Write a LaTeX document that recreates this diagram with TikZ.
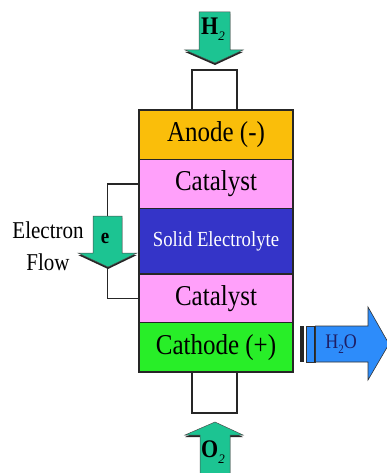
\documentclass[tikz,border=0pt]{standalone}
\usepackage{fontspec}
\setmainfont{Liberation Serif}
\definecolor{anodec}{RGB}{250,190,10}
\definecolor{catc}{RGB}{255,160,250}
\definecolor{elecc}{RGB}{52,52,200}
\definecolor{cathc}{RGB}{40,238,40}
\definecolor{arrg}{RGB}{28,196,146}
\definecolor{arrb}{RGB}{45,140,250}
\definecolor{navy}{RGB}{30,30,100}
\tikzset{
  layer/.style={draw=black!85, line width=1.6pt, minimum width=154pt, inner sep=0pt, font=\fontsize{25}{25}\selectfont},
  wire/.style={draw=black!85, line width=1.3pt},
  garrow/.style={fill=arrg, draw=black!70, line width=0.5pt},
  gshadow/.style={fill=black!85},
  lbl/.style={font=\fontsize{21}{21}\selectfont, inner sep=0pt}
}
\newcommand{\ys}[1]{\scalebox{1}[1.15]{#1}}
\begin{document}
\begin{tikzpicture}[x=1pt,y=-1pt]
\useasboundingbox (0,0) rectangle (386,473);
% layers
\node[layer, fill=anodec, minimum height=49.5pt] (anode) at (216,134.75) {\ys{Anode (-)}};
\node[layer, fill=catc, minimum height=49pt] (cat1) at (216,184) {\ys{Catalyst}};
\node[layer, fill=elecc, minimum height=65.5pt, text=white, font=\fontsize{18.7}{19}\selectfont] (elec) at (216,241.25) {\ys{Solid Electrolyte}};
\node[layer, fill=catc, minimum height=48.5pt] (cat2) at (216,298.25) {\ys{Catalyst}};
\node[layer, fill=cathc, minimum height=49.5pt] (cath) at (216,347.25) {\ys{Cathode (+)}};
% feed rectangles
\draw[wire] (192,110) -- (192,70) -- (237,70) -- (237,110);
\draw[wire] (192,372) -- (192,413) -- (237,413) -- (237,372);
% circuit
\draw[wire] (cat1.west) -- ++(-31,0) coordinate (c1) |- (cat2.west);
% H2 arrow
\path[gshadow] (199,14) -- (230,14) -- (230,52) -- (243,52) -- (215,65) -- (185,52) -- (199,52) -- cycle;
\path[garrow] (199,12) -- (230,12) -- (230,50) -- (243,50) -- (215,63) -- (185,50) -- (199,50) -- cycle;
\node[inner sep=0pt] (h2) at (213,29) {\ys{\fontsize{22}{22}\selectfont\textbf{H}}\raisebox{-6pt}{\fontsize{13}{13}\selectfont\textit{2}}};
% electron arrow
\path[gshadow] (93,218) -- (122,218) -- (122,255) -- (137,255) -- (108,269) -- (78,255) -- (93,255) -- cycle;
\path[garrow] (93,216) -- (122,216) -- (122,253) -- (137,253) -- (108,267) -- (78,253) -- (93,253) -- cycle;
\node[inner sep=0pt] (e) at (105,238) {\ys{\fontsize{19}{19}\selectfont\textbf{e}}};
\node[lbl] (elabel) at (48,230) {\ys{Electron}};
\node[lbl] (flabel) at (48,262) {\ys{Flow}};
% O2 arrow
\path[gshadow] (200,475) -- (200,437) -- (185,437) -- (215,424) -- (243,437) -- (230,437) -- (230,475) -- cycle;
\path[garrow] (200,475) -- (200,435) -- (185,435) -- (215,422) -- (243,435) -- (230,435) -- (230,475) -- cycle;
\node[inner sep=0pt] (o2) at (213,452) {\ys{\fontsize{22}{22}\selectfont\textbf{O}}\raisebox{-6pt}{\fontsize{13}{13}\selectfont\textit{2}}};
% H2O arrow
\fill[black!85] (300,326) rectangle (304,362);
\draw[fill=arrb, draw=black!80, line width=0.6pt] (306,326) rectangle (315,362);
\draw[black!85, line width=1.6pt] (314.5,326) -- (314.5,362);
\draw[fill=arrb, draw=black!80, line width=0.6pt] (315.5,326) -- (368,326) -- (368,307) -- (389,344) -- (368,380) -- (368,362) -- (315.5,362) -- cycle;
\node[inner sep=0pt, text=navy] (h2o) at (341,344) {\ys{\fontsize{18}{18}\selectfont H\raisebox{-4pt}{\fontsize{11}{11}\selectfont 2}O}};
\end{tikzpicture}
\end{document}
